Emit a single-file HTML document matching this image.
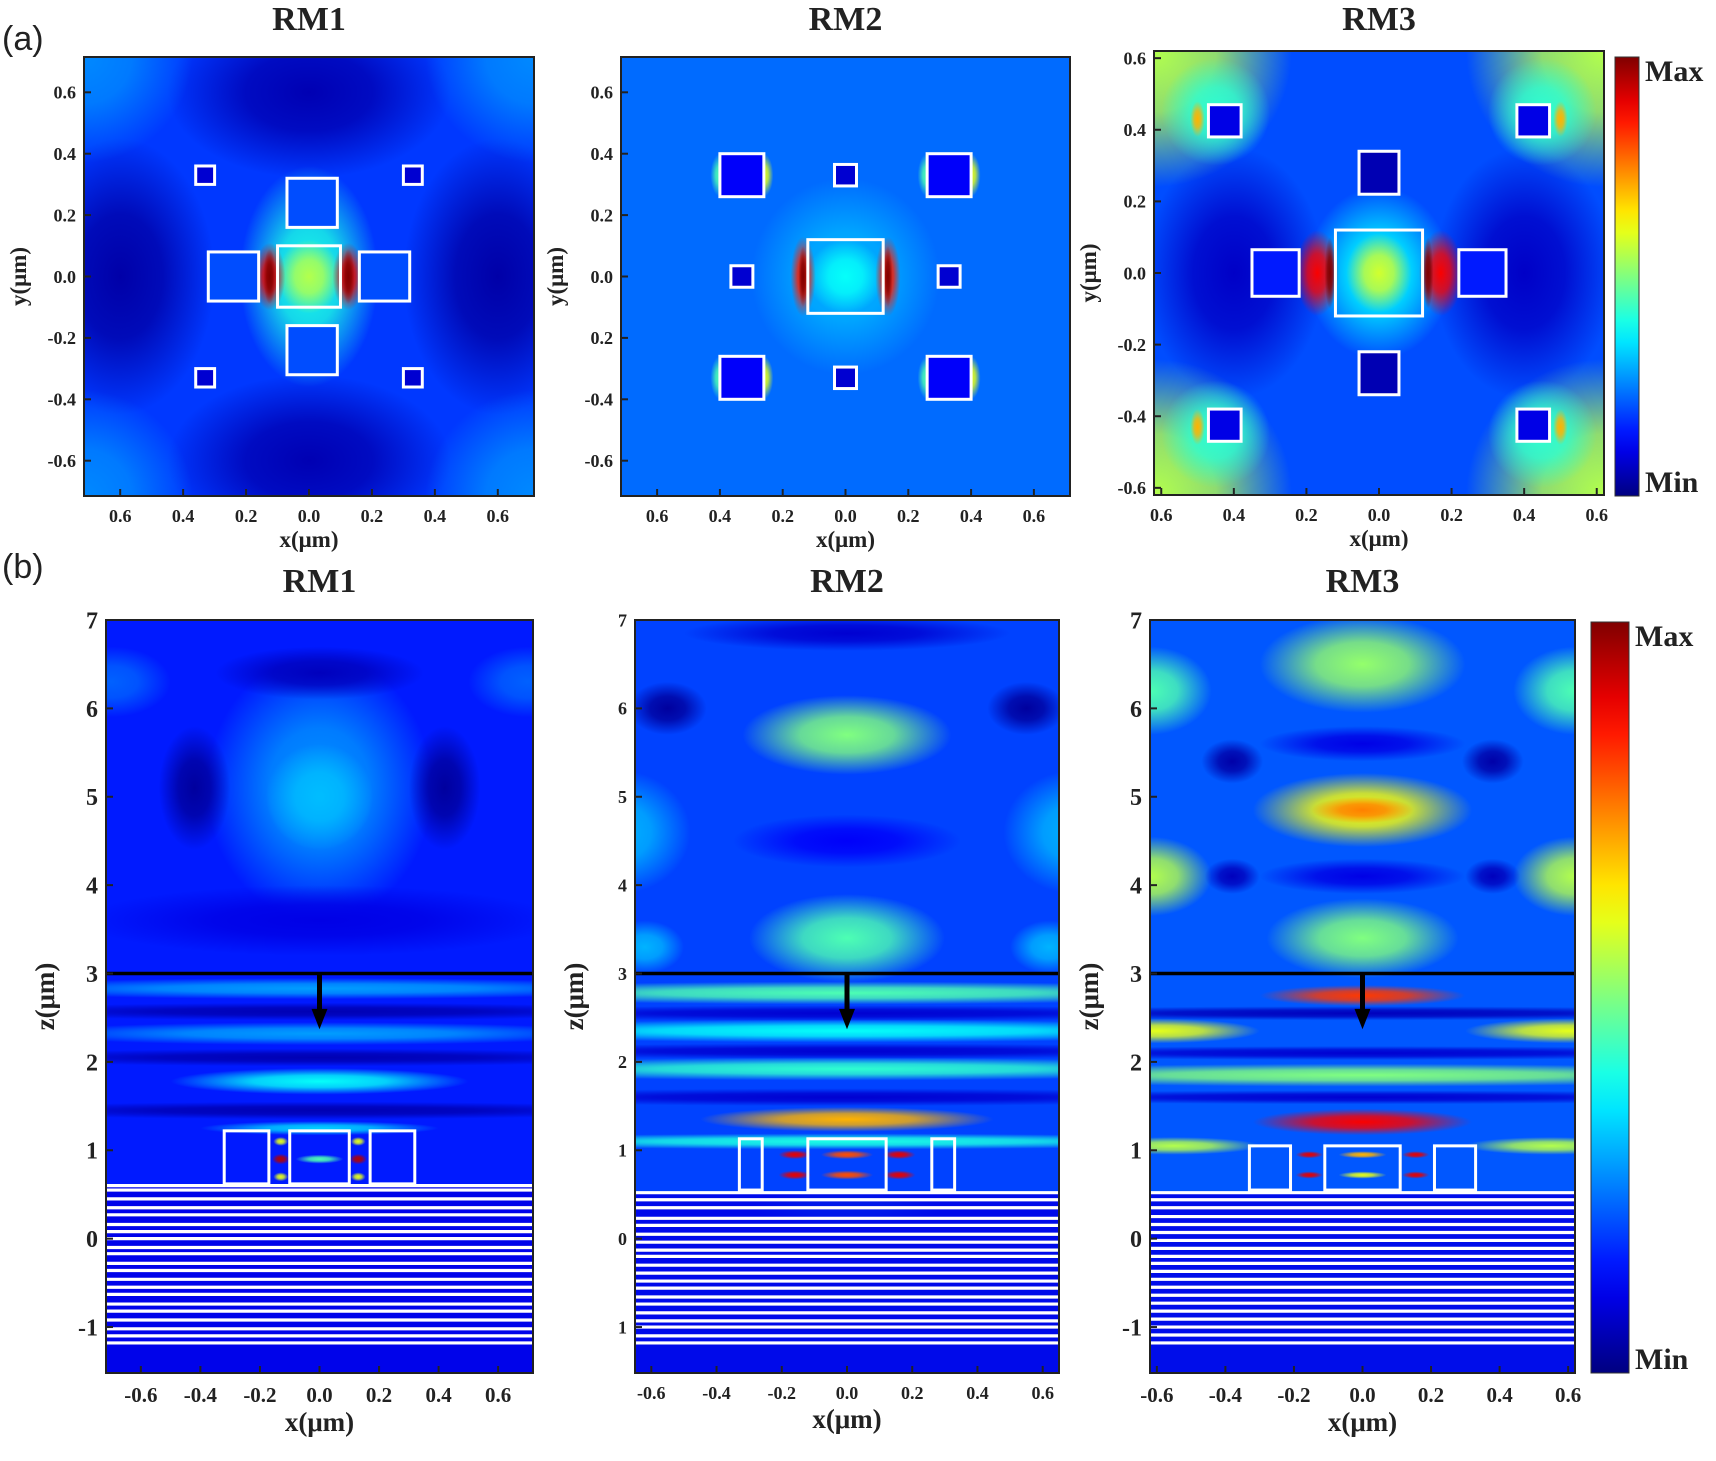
<!DOCTYPE html>
<html><head><meta charset="utf-8"><title>RM field maps</title>
<style>
html,body{margin:0;padding:0;background:#fff;}
svg text{font-family:"Liberation Serif",serif;font-weight:bold;fill:#222;}
.lab{font-family:"Liberation Sans",sans-serif;font-weight:normal;}
</style></head>
<body>
<svg id="fig" width="1716" height="1456" viewBox="0 0 1716 1456" xmlns="http://www.w3.org/2000/svg">
<defs id="defs"></defs>
<text class="lab" x="2" y="50" font-size="34">(a)</text>
<text class="lab" x="2" y="578" font-size="34">(b)</text>
</svg>
<script>
// ---- data (field intensity blobs: x, y, rx, ry, value 0..1) ----
const a1Blobs=[[0.6,0,0.3,0.45,0.04],[-0.6,0,0.3,0.45,0.04],[0,0.6,0.45,0.28,0.05],[0,-0.6,0.45,0.28,0.05],[0.72,0.72,0.35,0.35,0.26],[-0.72,0.72,0.35,0.35,0.26],[0.72,-0.72,0.35,0.35,0.26],[-0.72,-0.72,0.35,0.35,0.26],[0,0,0.22,0.36,0.4],[0,0,0.1,0.12,0.55],[0.125,0,0.05,0.11,0.9],[-0.125,0,0.05,0.11,0.9],[0.125,0,0.02,0.09,1],[-0.125,0,0.02,0.09,1]];
const a1Rects=[[-0.1,-0.1,0.2,0.2,-1],[0.16,-0.08,0.16,0.16,0.2],[-0.32,-0.08,0.16,0.16,0.2],[-0.07,0.16,0.16,0.16,0.2],[-0.07,-0.32,0.16,0.16,0.2],[0.3,0.3,0.06,0.06,0.08],[-0.36,0.3,0.06,0.06,0.08],[0.3,-0.36,0.06,0.06,0.08],[-0.36,-0.36,0.06,0.06,0.08]];
const a2Blobs=[[0,0,0.3,0.32,0.3],[0,0,0.12,0.12,0.38],[0.135,0,0.04,0.13,0.85],[-0.135,0,0.04,0.13,0.85],[0.135,0,0.015,0.1,1],[-0.135,0,0.015,0.1,1],[0.4,0.33,0.03,0.07,0.6],[-0.26,0.33,0.03,0.07,0.6],[0.4,-0.33,0.03,0.07,0.6],[-0.26,-0.33,0.03,0.07,0.6],[-0.4,0.33,0.03,0.07,0.45],[0.26,0.33,0.03,0.07,0.45],[-0.4,-0.33,0.03,0.07,0.45],[0.26,-0.33,0.03,0.07,0.45]];
const a2Rects=[[-0.12,-0.12,0.24,0.24,-1],[0.26,0.26,0.14,0.14,0.12],[-0.4,0.26,0.14,0.14,0.12],[0.26,-0.4,0.14,0.14,0.12],[-0.4,-0.4,0.14,0.14,0.12],[-0.035,0.295,0.07,0.07,0.08],[-0.035,-0.365,0.07,0.07,0.08],[0.295,-0.035,0.07,0.07,0.08],[-0.365,-0.035,0.07,0.07,0.08]];
const a3Blobs=[[0.4,0,0.25,0.35,0.07],[-0.4,0,0.25,0.35,0.07],[0.62,0.62,0.38,0.38,0.55],[-0.62,0.62,0.38,0.38,0.55],[0.62,-0.62,0.38,0.38,0.55],[-0.62,-0.62,0.38,0.38,0.55],[0.45,0.45,0.15,0.15,0.42],[-0.45,0.45,0.15,0.15,0.42],[0.45,-0.45,0.15,0.15,0.42],[-0.45,-0.45,0.15,0.15,0.42],[0,0,0.2,0.24,0.36],[0,0,0.09,0.11,0.58],[0.17,0,0.06,0.12,0.88],[-0.17,0,0.06,0.12,0.88],[0.135,0,0.015,0.1,1],[-0.135,0,0.015,0.1,1],[0.5,0.43,0.02,0.05,0.7],[-0.5,0.43,0.02,0.05,0.7],[0.5,-0.43,0.02,0.05,0.7],[-0.5,-0.43,0.02,0.05,0.7]];
const a3Rects=[[-0.12,-0.12,0.24,0.24,-1],[0.22,-0.065,0.13,0.13,0.15],[-0.35,-0.065,0.13,0.13,0.15],[-0.055,0.22,0.11,0.12,0.05],[-0.055,-0.34,0.11,0.12,0.05],[0.38,0.38,0.09,0.09,0.1],[-0.47,0.38,0.09,0.09,0.1],[0.38,-0.47,0.09,0.09,0.1],[-0.47,-0.47,0.09,0.09,0.1]];

const b1Blobs=[[0,5.1,0.38,1.5,0.27],[0,5.0,0.18,0.6,0.31],[0.42,5.1,0.12,0.7,0.03],[-0.42,5.1,0.12,0.7,0.03],[0,6.4,0.35,0.3,0.06],[0.7,6.3,0.2,0.4,0.22],[-0.7,6.3,0.2,0.4,0.22],[0,3.6,0.8,0.4,0.1],[0,2.83,1.2,0.12,0.28],[0,2.57,1.2,0.1,0.05],[0,2.32,1.0,0.13,0.28],[0,2.05,1.2,0.1,0.05],[0,1.78,0.5,0.15,0.38],[0,1.45,1.2,0.1,0.05],[0,1.25,0.4,0.08,0.33],[0,0.9,0.08,0.05,0.45],[0.13,0.9,0.03,0.06,0.95],[-0.13,0.9,0.03,0.06,0.95],[0.13,1.1,0.025,0.05,0.6],[-0.13,1.1,0.025,0.05,0.6],[0.13,0.7,0.025,0.05,0.6],[-0.13,0.7,0.025,0.05,0.6]];
const b1Rects=[[-0.32,0.62,0.15,0.6],[-0.1,0.62,0.2,0.6],[0.17,0.62,0.15,0.6]];
const b1Layers=[0.6,0.55,0.45,0.35,0.27,0.16,0.08,0.0,-0.1,-0.17,-0.28,-0.36,-0.46,-0.55,-0.63,-0.74,-0.82,-0.92,-1.02,-1.1,-1.18];
const b2Blobs=[[0,5.7,0.32,0.45,0.5],[0,3.4,0.3,0.5,0.45],[0,4.5,0.35,0.3,0.12],[0.7,4.6,0.22,0.7,0.3],[-0.7,4.6,0.22,0.7,0.3],[0.55,6.0,0.12,0.3,0.03],[-0.55,6.0,0.12,0.3,0.03],[0,6.85,0.5,0.2,0.08],[0.62,3.3,0.12,0.3,0.3],[-0.62,3.3,0.12,0.3,0.3],[0,2.78,1.3,0.13,0.45],[0,2.55,1.3,0.09,0.08],[0,2.35,1.3,0.13,0.38],[0,2.12,1.3,0.09,0.08],[0,1.92,1.3,0.13,0.42],[0,1.6,1.3,0.1,0.08],[0,1.35,0.45,0.14,0.7],[0,1.1,1.3,0.09,0.4],[0,0.95,0.08,0.05,0.8],[0,0.72,0.08,0.05,0.8],[0.16,0.95,0.05,0.05,0.9],[-0.16,0.95,0.05,0.05,0.9],[0.16,0.72,0.05,0.05,0.9],[-0.16,0.72,0.05,0.05,0.9],[0,0.35,0.3,0.2,0.3]];
const b2Rects=[[-0.33,0.55,0.07,0.58],[-0.12,0.55,0.24,0.58],[0.26,0.55,0.07,0.58]];
const b2Layers=[0.52,0.44,0.35,0.23,0.15,0.05,-0.04,-0.13,-0.2,-0.3,-0.39,-0.48,-0.56,-0.66,-0.74,-0.84,-0.93,-1.0,-1.1,-1.18];
const b3Blobs=[[0,6.5,0.3,0.55,0.52],[0,4.85,0.32,0.42,0.62],[0,4.85,0.15,0.15,0.75],[0,3.4,0.28,0.45,0.5],[0,5.6,0.3,0.2,0.1],[0,4.1,0.3,0.2,0.1],[0.62,4.1,0.18,0.45,0.55],[-0.62,4.1,0.18,0.45,0.55],[0.62,6.2,0.18,0.5,0.45],[-0.62,6.2,0.18,0.5,0.45],[0.38,5.4,0.09,0.25,0.04],[-0.38,5.4,0.09,0.25,0.04],[0.38,4.1,0.08,0.2,0.06],[-0.38,4.1,0.08,0.2,0.06],[0,2.75,0.3,0.12,0.82],[0.6,2.35,0.3,0.14,0.6],[-0.6,2.35,0.3,0.14,0.6],[0,2.55,1.3,0.08,0.06],[0,2.1,1.3,0.08,0.08],[0,1.85,1.3,0.13,0.5],[0,1.6,1.3,0.08,0.08],[0,1.32,0.32,0.15,0.88],[0.55,1.05,0.25,0.1,0.55],[-0.55,1.05,0.25,0.1,0.55],[0,0.95,0.07,0.04,0.7],[0,0.72,0.07,0.04,0.6],[0.155,0.95,0.04,0.04,0.9],[-0.155,0.95,0.04,0.04,0.9],[0.155,0.72,0.04,0.04,0.9],[-0.155,0.72,0.04,0.04,0.9]];
const b3Rects=[[-0.33,0.55,0.12,0.5],[-0.11,0.55,0.22,0.5],[0.21,0.55,0.12,0.5]];
const b3Layers=[0.52,0.44,0.35,0.25,0.16,0.07,-0.02,-0.11,-0.2,-0.28,-0.37,-0.46,-0.55,-0.64,-0.73,-0.82,-0.91,-1.0,-1.09,-1.18];

const aXTicks=[-0.6,-0.4,-0.2,0,0.2,0.4,0.6];
const aXLabels=['0.6','0.4','0.2','0.0','0.2','0.4','0.6'];
const aYTicks=[0.6,0.4,0.2,0,-0.2,-0.4,-0.6];
const a1YLabels=['0.6','0.4','0.2','0.0','-0.2','-0.4','-0.6'];
const a2YLabels=['0.6','0.4','0.2','0.0','0.2','-0.4','-0.6'];
const bXTicks=[-0.6,-0.4,-0.2,0,0.2,0.4,0.6];
const bXLabels=['-0.6','-0.4','-0.2','0.0','0.2','0.4','0.6'];
const bZTicks=[7,6,5,4,3,2,1,0,-1];
const b1ZLabels=['7','6','5','4','3','2','1','0','-1'];
const b2ZLabels=['7','6','5','4','3','2','1','0','1'];

const svg=document.getElementById('fig');
const defs=document.getElementById('defs');
const NS='http://www.w3.org/2000/svg';
let gid=0;
function jet(v){
  const c=t=>Math.max(0,Math.min(1,t));
  const r=c(1.5-Math.abs(4*v-3)),g=c(1.5-Math.abs(4*v-2)),b=c(1.5-Math.abs(4*v-1));
  return 'rgb('+Math.round(r*255)+','+Math.round(g*255)+','+Math.round(b*255)+')';
}
function mk(tag,attrs,parent){const e=document.createElementNS(NS,tag);for(const k in attrs)e.setAttribute(k,attrs[k]);(parent||svg).appendChild(e);return e;}

function panel(o){
  const sx=v=>o.l+(v-o.x0)/(o.x1-o.x0)*(o.r-o.l);
  const sy=v=>o.b-(v-o.y0)/(o.y1-o.y0)*(o.b-o.t);
  const g=mk('g',{});
  
  
  const cid='clip'+(gid++);
  const cp=mk('clipPath',{id:cid},defs);mk('rect',{x:o.l,y:o.t,width:o.r-o.l,height:o.b-o.t},cp);
  const inner=mk('g',{'clip-path':'url(#'+cid+')'},g);
  const bg=mk('rect',{x:o.l,y:o.t,width:o.r-o.l,height:o.b-o.t,fill:jet(o.bg)},inner);
  
  
  o.blobs.forEach(bl=>{
    const id='rg'+(gid++);const col=jet(bl[4]);
    const rg=mk('radialGradient',{id:id},defs);
    mk('stop',{offset:'0','stop-color':col,'stop-opacity':'1'},rg);
    mk('stop',{offset:'0.45','stop-color':col,'stop-opacity':'0.8'},rg);
    mk('stop',{offset:'1','stop-color':col,'stop-opacity':'0'},rg);
    const e=mk('ellipse',{cx:sx(bl[0]),cy:sy(bl[1]),rx:Math.abs(sx(bl[2])-sx(0)),ry:Math.abs(sy(bl[3])-sy(0)),fill:'url(#'+id+')'},inner);
    
    
  });
  if(o.layers){
    const lb=mk('rect',{x:o.l,y:sy(o.layers[0]),width:o.r-o.l,height:o.b-sy(o.layers[0]),fill:jet(0.1),opacity:0.85},inner);
    
    
    o.layers.forEach(z=>{
      const ln=mk('line',{x1:o.l,x2:o.r,y1:sy(z),y2:sy(z),stroke:'#fff','stroke-width':3.2},inner);
      
      
    });
  }
  o.rects.forEach(rc=>{
    const x=sx(rc[0]),y=sy(rc[1]+rc[3]),w=sx(rc[0]+rc[2])-x,h=sy(rc[1])-y;
    const at={x:x,y:y,width:w,height:h,fill:(rc.length>4&&rc[4]>=0)?jet(rc[4]):'none',stroke:'#fff','stroke-width':3};
    const e=mk('rect',at,inner);
    
    
  });
  if(o.arrow){
    const hl=mk('line',{x1:o.l,x2:o.r,y1:sy(3),y2:sy(3),stroke:'#000','stroke-width':3.5},inner);
    
    
    const x=sx(0);
    const ar=mk('path',{d:'M'+(x-2.5)+' '+sy(3)+' L'+(x-2.5)+' '+(sy(2.6))+' L'+(x-8)+' '+sy(2.6)+' L'+x+' '+sy(2.37)+' L'+(x+8)+' '+sy(2.6)+' L'+(x+2.5)+' '+sy(2.6)+' L'+(x+2.5)+' '+sy(3)+'Z',fill:'#000'},inner);
    
    
  }
  const fr=mk('rect',{x:o.l,y:o.t,width:o.r-o.l,height:o.b-o.t,fill:'none',stroke:'#222','stroke-width':2},g);
  
  
  o.xt.forEach((v,i)=>{
    mk('line',{x1:sx(v),x2:sx(v),y1:o.b,y2:o.b-7,stroke:'#222','stroke-width':2},g);
    const t=mk('text',{x:sx(v),y:o.b+o.fs+8,'font-size':o.fs,'text-anchor':'middle'},g);
    t.textContent=o.xl[i];
    
    
  });
  o.yt.forEach((v,i)=>{
    mk('line',{x1:o.l,x2:o.l+7,y1:sy(v),y2:sy(v),stroke:'#222','stroke-width':2},g);
    const t=mk('text',{x:o.l-8,y:sy(v)+o.yfs*0.35,'font-size':o.yfs,'text-anchor':'end'},g);
    t.textContent=o.yl[i];
    
    
  });
  const xt=mk('text',{x:(o.l+o.r)/2,y:o.b+o.fs+o.tfs+10,'font-size':o.tfs,'text-anchor':'middle'},g);
  xt.textContent='x(μm)';
  
  
  const yt=mk('text',{x:0,y:0,'font-size':o.tfs,'text-anchor':'middle',transform:'translate('+(o.l-o.ytoff)+','+((o.t+o.b)/2)+') rotate(-90)'},g);
  yt.textContent=o.ytitle;
  
  
  const tt=mk('text',{x:(o.l+o.r)/2,y:o.titleY,'font-size':34,'text-anchor':'middle'},g);
  tt.textContent=o.title;
  
  
}
function colorbar(l,t,r,b,name){
  const id='cb'+(gid++);
  const lg=mk('linearGradient',{id:id,x1:0,y1:1,x2:0,y2:0},defs);
  for(let i=0;i<=20;i++)mk('stop',{offset:i/20,'stop-color':jet(i/20)},lg);
  const e=mk('rect',{x:l,y:t,width:r-l,height:b-t,fill:'url(#'+id+')',stroke:'#333','stroke-width':1});
  
  
  const mx=mk('text',{x:r+6,y:t+24,'font-size':30});mx.textContent='Max';
  
  
  const mn=mk('text',{x:r+6,y:b-4,'font-size':30});mn.textContent='Min';
  
  
}
const A={x0:-0.715,x1:0.715,y0:-0.715,y1:0.715,xt:aXTicks,xl:aXLabels,yt:aYTicks,fs:18,yfs:18,tfs:23,ytoff:58,ytitle:'y(μm)',titleY:30};
panel(Object.assign({},A,{name:'rm1-xy-map',title:'RM1',l:84,t:57,r:534,b:496,bg:0.18,blobs:a1Blobs,rects:a1Rects,yl:a1YLabels}));
panel(Object.assign({},A,{name:'rm2-xy-map',title:'RM2',l:621,t:57,r:1070,b:496,bg:0.23,blobs:a2Blobs,rects:a2Rects,yl:a2YLabels}));
panel(Object.assign({},A,{name:'rm3-xy-map',title:'RM3',x0:-0.62,x1:0.62,y0:-0.62,y1:0.62,l:1154,t:51,r:1604,b:495,bg:0.2,blobs:a3Blobs,rects:a3Rects,yl:a1YLabels}));
colorbar(1615,57,1639,496,'colorbar-a');
const B={y0:-1.52,y1:7,xt:bXTicks,xl:bXLabels,yt:bZTicks,fs:21,yfs:24,tfs:27,ytoff:52,ytitle:'z(μm)',titleY:592,arrow:true};
panel(Object.assign({},B,{name:'rm1-xz-map',title:'RM1',x0:-0.717,x1:0.717,l:106,t:620,r:533,b:1373,bg:0.15,blobs:b1Blobs,rects:b1Rects,layers:b1Layers,yl:b1ZLabels}));
panel(Object.assign({},B,{name:'rm2-xz-map',title:'RM2',x0:-0.65,x1:0.65,l:635,t:620,r:1059,b:1373,bg:0.19,blobs:b2Blobs,rects:b2Rects,layers:b2Layers,yl:b2ZLabels,yfs:18,fs:18}));
panel(Object.assign({},B,{name:'rm3-xz-map',title:'RM3',x0:-0.62,x1:0.62,l:1150,t:620,r:1575,b:1373,bg:0.21,blobs:b3Blobs,rects:b3Rects,layers:b3Layers,yl:b1ZLabels}));
colorbar(1591,622,1629,1373,'colorbar-b');
</script>
</body></html>
